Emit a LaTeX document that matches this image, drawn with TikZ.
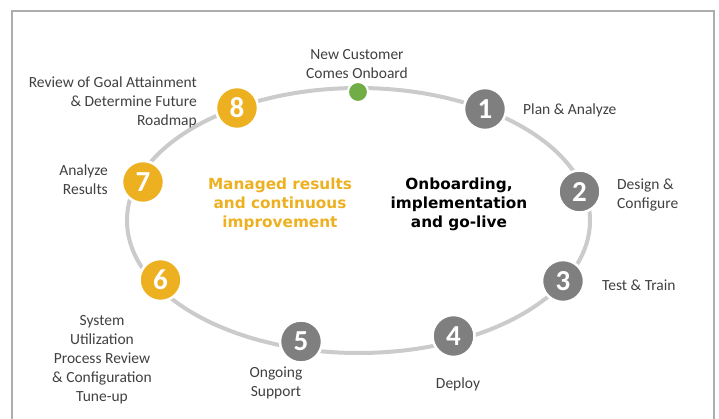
\documentclass[tikz,border=0pt]{standalone}
\usepackage{fontspec}
\setmainfont{Carlito}
\newfontfamily\headfont{DejaVu Sans}
\definecolor{gold}{HTML}{EDB021}
\definecolor{stepgray}{HTML}{7F7F7F}
\definecolor{startgreen}{HTML}{70AD47}
\definecolor{ringgray}{HTML}{CBCBCB}
\definecolor{labelgray}{HTML}{404040}
\tikzset{
  stepdot/.style={circle, minimum size=42pt, inner sep=0pt, draw=white, line width=2.5pt,
    text=white, font=\fontsize{29}{29}\selectfont\bfseries},
  golddot/.style={stepdot, fill=gold},
  graydot/.style={stepdot, fill=stepgray},
  lbl/.style={text=labelgray, inner sep=0pt, font=\fontsize{15.5}{19}\selectfont},
  head/.style={inner sep=0pt, align=center, font=\fontsize{15.3}{19}\selectfont\headfont\bfseries}
}

\begin{document}
\begin{tikzpicture}[x=1pt,y=-1pt]
  \useasboundingbox (0,0) rectangle (719,419);
  % frame
  \draw[ringgray!85!black, line width=1.2pt] (12,419) -- (12,11) -- (714,11) -- (714,419);
  % ring
  \draw[ringgray, line width=4pt] (358.5,220.5) ellipse [x radius=231.5pt, y radius=132.5pt];
  % start point
  \node[circle, fill=startgreen, draw=white, line width=2pt, minimum size=20pt, inner sep=0pt] (start) at (358,92) {};
  \node[lbl, align=center] (startlbl) at (357,64) {New Customer\\Comes Onboard};
  % steps
  \node[graydot] (n1) at (485,109) {1};
  \node[graydot] (n2) at (579.5,191.5) {2};
  \node[graydot] (n3) at (563,281) {3};
  \node[graydot] (n4) at (453.5,336) {4};
  \node[graydot] (n5) at (301,341.5) {5};
  \node[golddot] (n6) at (160.5,280) {6};
  \node[golddot] (n7) at (143,182) {7};
  \node[golddot] (n8) at (237,108) {8};
  % step labels
  \node[lbl, anchor=west] (l1) at (523,110) {Plan \& Analyze};
  \node[lbl, anchor=west, align=left] (l2) at (617,195) {Design \&\\Configure};
  \node[lbl, anchor=west] (l3) at (602,285) {Test \& Train};
  \node[lbl] (l4) at (458,384) {Deploy};
  \node[lbl, align=center] (l5) at (276,383) {Ongoing\\Support};
  \node[lbl, align=center] (l6) at (102,359.5) {System\\Utilization\\Process Review\\\& Configuration\\Tune-up};
  \node[lbl, anchor=east, align=right] (l7) at (108,179.5) {Analyze\\Results};
  \node[lbl, anchor=east, align=right] (l8) at (197,102.5) {Review of Goal Attainment\\\& Determine Future\\Roadmap};
  % phases
  \node[head, text=gold] (managed) at (280,204) {Managed results\\and continuous\\improvement};
  \node[head, text=black] (onboard) at (459,204) {Onboarding,\\implementation\\and go-live};
\end{tikzpicture}
\end{document}
